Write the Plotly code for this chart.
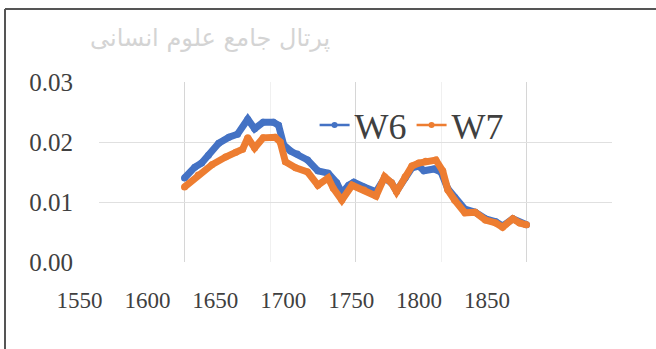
import plotly.graph_objects as go

# Series W6 and W7 (year, value)
w6_years = [1600, 1606, 1610, 1614, 1620, 1626, 1631, 1637, 1641, 1646, 1652, 1655,
            1658, 1662, 1666, 1672, 1678, 1684, 1689, 1692, 1696, 1699, 1705, 1712,
            1717, 1721, 1724, 1729, 1733, 1737, 1740, 1746, 1750, 1754, 1758, 1764,
            1770, 1776, 1782, 1786, 1792, 1796, 1800]
w6_values = [0.0140, 0.0158, 0.0165, 0.0178, 0.0198, 0.0208, 0.0213, 0.0238, 0.0222,
             0.0233, 0.0233, 0.0228, 0.0195, 0.0185, 0.0180, 0.0170, 0.0152, 0.0148,
             0.0132, 0.0115, 0.0128, 0.0133, 0.0125, 0.0117, 0.0140, 0.0132, 0.0118,
             0.0140, 0.0157, 0.0160, 0.0152, 0.0155, 0.0150, 0.0122, 0.0108, 0.0088,
             0.0083, 0.0072, 0.0067, 0.0060, 0.0072, 0.0066, 0.0062]

w7_years = [1600, 1608, 1616, 1624, 1630, 1634, 1637, 1641, 1646, 1653, 1656, 1659,
            1665, 1672, 1678, 1684, 1687, 1692, 1698, 1705, 1712, 1717, 1721, 1724,
            1729, 1733, 1737, 1741, 1747, 1751, 1754, 1758, 1764, 1770, 1776, 1782,
            1786, 1792, 1796, 1800]
w7_values = [0.0125, 0.0145, 0.0162, 0.0175, 0.0183, 0.0188, 0.0207, 0.0190, 0.0207,
             0.0208, 0.0200, 0.0167, 0.0157, 0.0150, 0.0128, 0.0140, 0.0123, 0.0103,
             0.0128, 0.0120, 0.0110, 0.0142, 0.0132, 0.0117, 0.0142, 0.0160, 0.0165,
             0.0168, 0.0170, 0.0152, 0.0120, 0.0103, 0.0082, 0.0083, 0.0070, 0.0065,
             0.0058, 0.0072, 0.0065, 0.0062]

x_tick_labels = [1550, 1600, 1650, 1700, 1750, 1800, 1850]
y_tick_values = [0.00, 0.01, 0.02, 0.03]

BLUE = "#4472C4"
ORANGE = "#ED7D31"
TEXT = "#404040"
FONT = "Liberation Serif"

fig = go.Figure()

for name, xs, ys, color in [("W6", w6_years, w6_values, BLUE),
                            ("W7", w7_years, w7_values, ORANGE)]:
    fig.add_trace(go.Scatter(
        x=xs, y=ys, mode="lines+markers", name=name,
        line=dict(color=color, width=7),
        marker=dict(color=color, size=7),
        showlegend=False, hoverinfo="x+y",
    ))

# thin legend entries
for name, color in [("W6", BLUE), ("W7", ORANGE)]:
    fig.add_trace(go.Scatter(
        x=[None], y=[None], mode="lines+markers", name=name,
        line=dict(color=color, width=2.5),
        marker=dict(color=color, size=6),
    ))

# carrier for the labelled year axis (its own transparent subplot)
fig.add_trace(go.Scatter(
    x=[x_tick_labels[0], x_tick_labels[-1]], y=[None, None],
    xaxis="x2", yaxis="y2", showlegend=False, hoverinfo="skip", mode="lines",
))

fig.update_layout(
    width=656, height=349,
    margin=dict(l=60, r=20, t=82, b=87),
    paper_bgcolor="white", plot_bgcolor="rgba(0,0,0,0)",
    font=dict(family=FONT, color=TEXT, size=23),
    xaxis=dict(
        domain=[39 / 576, 552 / 576],
        range=[1550, 1850],
        tick0=1600, dtick=100,
        showgrid=True, gridcolor="#d6d6d6", gridwidth=1,
        minor=dict(dtick=50, showgrid=True, gridcolor="#f0f0f0"),
        showticklabels=False, zeroline=False, showline=False,
        automargin=False,
    ),
    yaxis=dict(
        range=[0, 0.03],
        tickvals=y_tick_values, tickformat=".2f",
        showgrid=True, gridcolor="#e0e0e0", gridwidth=1,
        zeroline=False, showline=False,
        ticks="", ticklabelstandoff=25,
        tickfont=dict(family=FONT, size=25, color=TEXT),
        automargin=False,
    ),
    xaxis2=dict(
        domain=[19.5 / 576, 427 / 576],
        range=[1550, 1850],
        anchor="y2",
        tickvals=x_tick_labels,
        ticktext=[str(v) for v in x_tick_labels],
        showgrid=False, zeroline=False, showline=False,
        ticks="", ticklabelstandoff=22,
        tickfont=dict(family=FONT, size=23, color=TEXT),
        automargin=False,
    ),
    yaxis2=dict(
        anchor="x2", range=[0, 0.03],
        showgrid=False, zeroline=False, showline=False,
        showticklabels=False, ticks="",
        automargin=False,
    ),
    legend=dict(
        orientation="h",
        x=0.442, xanchor="left",
        y=0.761, yanchor="middle",
        bgcolor="rgba(0,0,0,0)",
        font=dict(family=FONT, size=36, color=TEXT),
        itemwidth=30,
    ),
    shapes=[
        dict(type="line", xref="paper", yref="paper",
             x0=(5 - 60) / 576, x1=(5 - 60) / 576,
             y0=(262 - 9) / 180, y1=(262 - 352) / 180,
             line=dict(color="#555555", width=2)),
        dict(type="line", xref="paper", yref="paper",
             x0=(5 - 60) / 576, x1=(660 - 60) / 576,
             y0=(262 - 9) / 180, y1=(262 - 9) / 180,
             line=dict(color="#555555", width=2)),
    ],
    annotations=[
        dict(text="پرتال جامع علوم انسانی", xref="paper", yref="paper",
             x=(210 - 60) / 576, y=(262 - 38) / 180,
             xanchor="center", yanchor="middle",
             showarrow=False,
             font=dict(family="DejaVu Sans", size=24, color="#d4d4d4")),
    ],
)

fig.write_html("out.html")
